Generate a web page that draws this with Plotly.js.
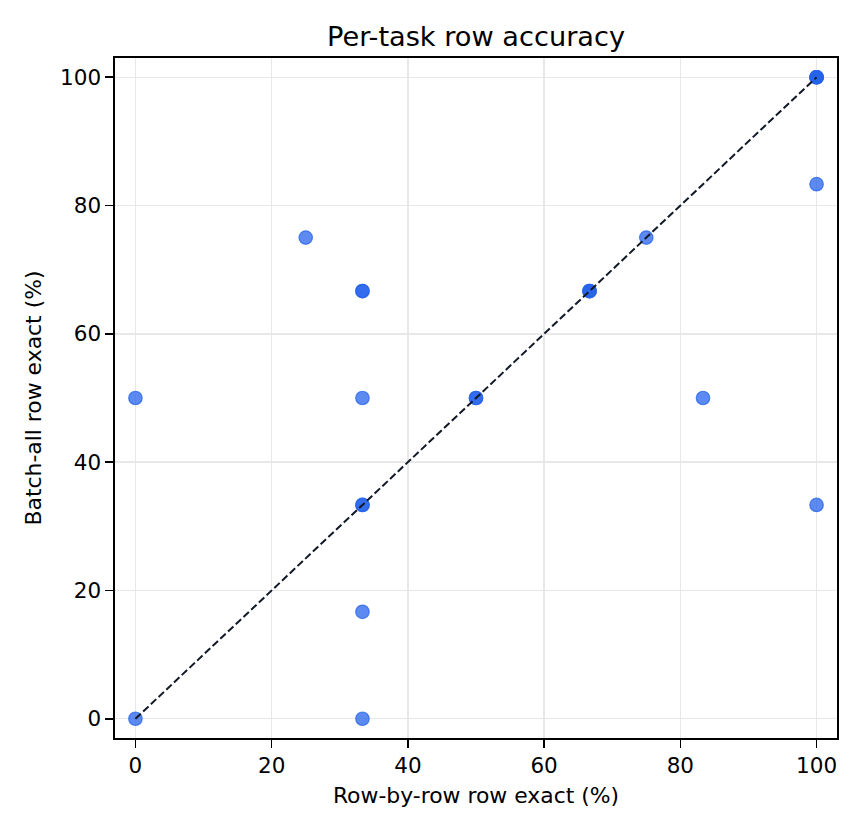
<!DOCTYPE html>
<html>
<head>
<meta charset="utf-8">
<script src="https://cdn.plot.ly/plotly-3.0.1.min.js"></script>
<style>html,body{margin:0;padding:0;background:#fff;}#chart{width:864px;height:832px;}</style>
</head>
<body>
<div id="chart"></div>
<script>
// Per-task row accuracy (%): row-by-row vs batch-all (overlapping tasks repeated)
const rowByRow = [0, 0, 25, 33.33, 33.33, 33.33, 33.33, 33.33, 33.33, 33.33, 50, 50, 66.67, 66.67, 66.67, 75, 83.33, 100, 100, 100, 100, 100, 100];
const batchAll = [0, 50, 75, 66.67, 66.67, 50, 33.33, 33.33, 16.67, 0, 50, 50, 66.67, 66.67, 66.67, 75, 50, 100, 100, 100, 100, 83.33, 33.33];
const diagX = [0, 100];
const diagY = [0, 100];
const xTicks = [0, 20, 40, 60, 80, 100];
const yTicks = [0, 20, 40, 60, 80, 100];

const font = "DejaVu Sans, sans-serif";

const traces = [
  {
    x: rowByRow, y: batchAll,
    type: "scatter", mode: "markers",
    marker: {size: 13.5, color: "rgba(37,99,235,0.75)", line: {color: "rgba(37,99,235,0.75)", width: 1.2}},
    hoverinfo: "x+y", showlegend: false
  },
  {
    x: diagX, y: diagY, type: "scatter", mode: "lines",
    line: {color: "#111827", width: 2, dash: "7.4px,3.2px"},
    showlegend: false, hoverinfo: "skip"
  }
];

const axisCommon = {
  showgrid: true, gridcolor: "#e8e8e8", gridwidth: 1.4,
  zeroline: false, showline: true, linecolor: "#000", linewidth: 1.6, mirror: true,
  ticks: "outside", ticklen: 8, tickwidth: 1.6, tickcolor: "#000",
  tickfont: {family: font, size: 21.5, color: "#000"},
  range: [-3, 103], tickmode: "array"
};

const layout = {
  width: 864, height: 832,
  paper_bgcolor: "#fff", plot_bgcolor: "#fff",
  margin: {l: 115, r: 27, t: 58, b: 94},
  title: {text: "Per-task row accuracy", font: {family: font, size: 27.2, color: "#000"},
          x: 0.5, xref: "paper", xanchor: "center", y: 1 - 36/832, yref: "container", yanchor: "middle"},
  xaxis: Object.assign({}, axisCommon, {tickvals: xTicks, ticktext: xTicks.map(String),
    title: {text: "Row-by-row row exact (%)", font: {family: font, size: 21.9, color: "#000"}, standoff: 10}}),
  yaxis: Object.assign({}, axisCommon, {tickvals: yTicks, ticktext: yTicks.map(String),
    title: {text: "Batch-all row exact (%)", font: {family: font, size: 21.9, color: "#000"}, standoff: 12}}),
  showlegend: false
};

Plotly.newPlot("chart", traces, layout, {staticPlot: true});
</script>
</body>
</html>
